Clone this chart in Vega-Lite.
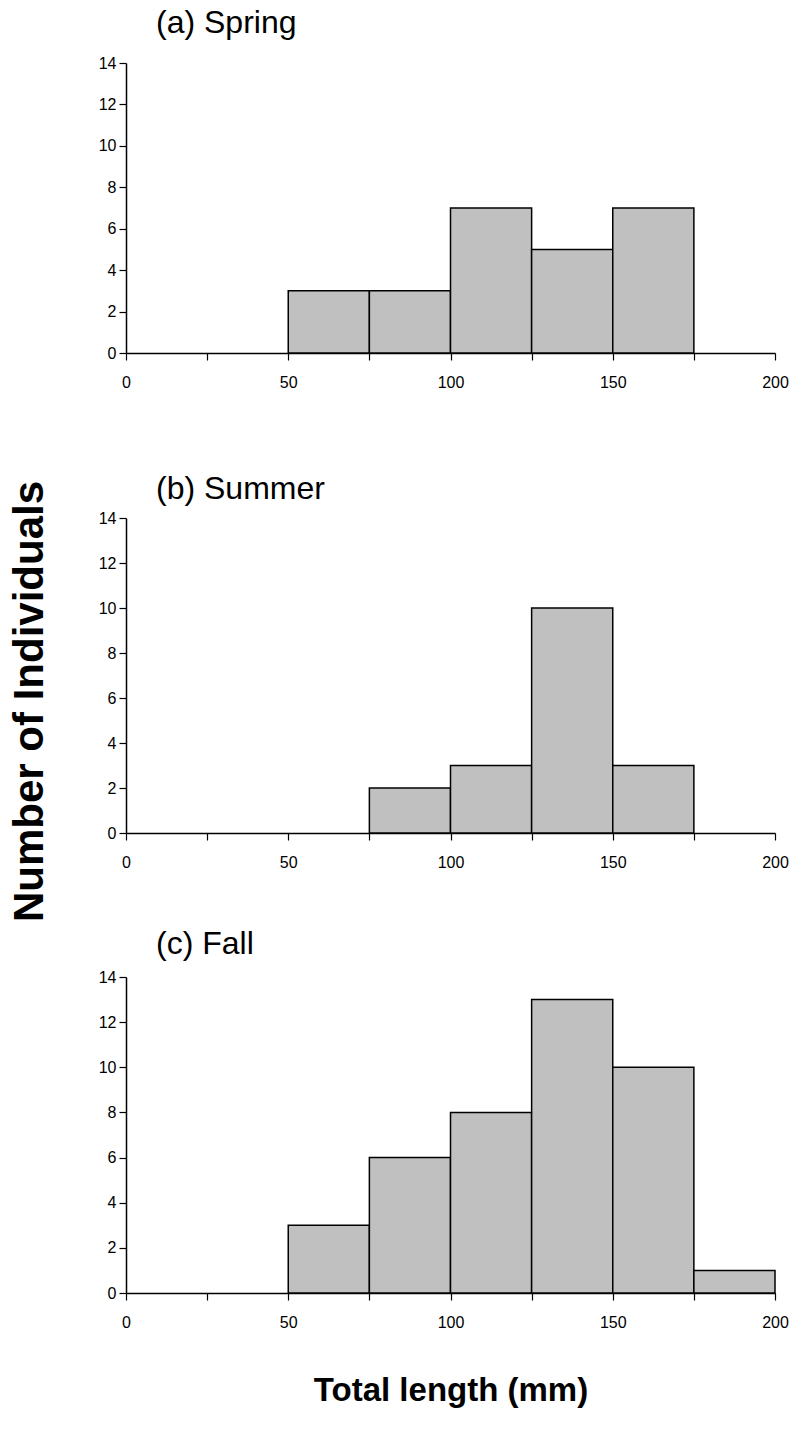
{
  "$schema": "https://vega.github.io/schema/vega-lite/v6.json",
  "background": "white",
  "padding": {"left": 8, "top": 7, "right": 5, "bottom": 5},
  "config": {
    "view": {"stroke": null},
    "font": "Liberation Sans",
    "axis": {
      "grid": false,
      "domainColor": "#000000",
      "domainWidth": 1.5,
      "tickColor": "#000000",
      "tickWidth": 1.2,
      "tickSize": 7,
      "labelColor": "#000000",
      "labelFont": "Liberation Sans",
      "labelFontSize": 16,
      "labelFlush": false,
      "labelOverlap": false,
      "titleColor": "#000000"
    },
    "title": {"font": "Liberation Sans", "fontSize": 32, "fontWeight": "normal", "color": "#000000", "anchor": "start", "frame": "group", "dx": 30}
  },
  "data": {
    "values": [
      {"season": "Spring", "bin_start": 50, "bin_end": 75, "count": 3},
      {"season": "Spring", "bin_start": 75, "bin_end": 100, "count": 3},
      {"season": "Spring", "bin_start": 100, "bin_end": 125, "count": 7},
      {"season": "Spring", "bin_start": 125, "bin_end": 150, "count": 5},
      {"season": "Spring", "bin_start": 150, "bin_end": 175, "count": 7},
      {"season": "Summer", "bin_start": 75, "bin_end": 100, "count": 2},
      {"season": "Summer", "bin_start": 100, "bin_end": 125, "count": 3},
      {"season": "Summer", "bin_start": 125, "bin_end": 150, "count": 10},
      {"season": "Summer", "bin_start": 150, "bin_end": 175, "count": 3},
      {"season": "Fall", "bin_start": 50, "bin_end": 75, "count": 3},
      {"season": "Fall", "bin_start": 75, "bin_end": 100, "count": 6},
      {"season": "Fall", "bin_start": 100, "bin_end": 125, "count": 8},
      {"season": "Fall", "bin_start": 125, "bin_end": 150, "count": 13},
      {"season": "Fall", "bin_start": 150, "bin_end": 175, "count": 10},
      {"season": "Fall", "bin_start": 175, "bin_end": 200, "count": 1}
    ]
  },
  "spacing": 165,
  "bounds": "flush",
  "vconcat": [
    {
      "title": {"text": "(a) Spring", "offset": 15},
      "width": 649,
      "height": 290,
      "transform": [{"filter": "datum.season === 'Spring'"}],
      "mark": {"type": "rect", "fill": "#c0c0c0", "stroke": "#000000", "strokeWidth": 1.5},
      "encoding": {
        "x": {"field": "bin_start", "type": "quantitative", "scale": {"domain": [0, 200], "nice": false},
              "axis": {"title": null, "values": [0, 25, 50, 75, 100, 125, 150, 175, 200], "labelExpr": "datum.value % 50 === 0 ? datum.label : ''", "labelPadding": 14}},
        "x2": {"field": "bin_end"},
        "y": {"field": "count", "type": "quantitative", "scale": {"domain": [0, 14], "nice": false},
              "axis": {"title": null, "values": [0, 2, 4, 6, 8, 10, 12, 14], "labelPadding": 3}},
        "y2": {"datum": 0}
      }
    },
    {
      "spacing": 144,
      "bounds": "flush",
      "vconcat": [
        {
          "title": {"text": "(b) Summer", "offset": -26},
          "width": 649,
          "height": 315,
          "transform": [{"filter": "datum.season === 'Summer'"}],
          "mark": {"type": "rect", "fill": "#c0c0c0", "stroke": "#000000", "strokeWidth": 1.5},
          "encoding": {
            "x": {"field": "bin_start", "type": "quantitative", "scale": {"domain": [0, 200], "nice": false},
                  "axis": {"title": null, "values": [0, 25, 50, 75, 100, 125, 150, 175, 200], "labelExpr": "datum.value % 50 === 0 ? datum.label : ''", "labelPadding": 14}},
            "x2": {"field": "bin_end"},
            "y": {"field": "count", "type": "quantitative", "scale": {"domain": [0, 14], "nice": false},
                  "axis": {"title": "Number of Individuals", "titleFont": "Liberation Sans", "titleFontWeight": "bold", "titleFontSize": 42, "titlePadding": 47, "titleY": 183, "values": [0, 2, 4, 6, 8, 10, 12, 14], "labelPadding": 3}},
            "y2": {"datum": 0}
          }
        },
        {
          "title": {"text": "(c) Fall", "offset": 8},
          "width": 649,
          "height": 316,
          "transform": [{"filter": "datum.season === 'Fall'"}],
          "mark": {"type": "rect", "fill": "#c0c0c0", "stroke": "#000000", "strokeWidth": 1.5},
          "encoding": {
            "x": {"field": "bin_start", "type": "quantitative", "scale": {"domain": [0, 200], "nice": false},
                  "axis": {"title": "Total length (mm)", "titleFont": "Liberation Sans", "titleFontWeight": "bold", "titleFontSize": 33, "titlePadding": 44, "values": [0, 25, 50, 75, 100, 125, 150, 175, 200], "labelExpr": "datum.value % 50 === 0 ? datum.label : ''", "labelPadding": 14}},
            "x2": {"field": "bin_end"},
            "y": {"field": "count", "type": "quantitative", "scale": {"domain": [0, 14], "nice": false},
                  "axis": {"title": null, "values": [0, 2, 4, 6, 8, 10, 12, 14], "labelPadding": 3}},
            "y2": {"datum": 0}
          }
        }
      ]
    }
  ]
}
